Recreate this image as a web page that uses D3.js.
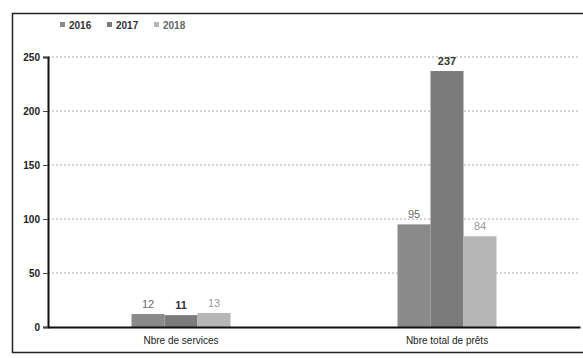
<!DOCTYPE html>
<html><head><meta charset="utf-8">
<script src="https://cdn.jsdelivr.net/npm/d3@7/dist/d3.min.js"></script>
<style>body{margin:0;background:#fff}svg{display:block}text{font-family:"Liberation Sans",Arial,sans-serif}</style>
</head><body><svg id="c" width="583" height="358"></svg>
<script>
const categories = ["Nbre de services", "Nbre total de prêts"];
const seriesNames = ["2016", "2017", "2018"];
const values2016 = [12, 95];
const values2017 = [11, 237];
const values2018 = [13, 84];
const yTicks = [0, 50, 100, 150, 200, 250];
const colors = ["#8a8a8a", "#7b7b7b", "#b6b6b6"];
const labelColors = ["#6a6a6a", "#333333", "#9a9a9a"];

const series = [values2016, values2017, values2018];
const svg = d3.select("#c");
const m = {l: 48, r: 5, t: 57, b: 31};

// outer frame
svg.append("rect").attr("x", 12.5).attr("y", 13.5).attr("width", 580).attr("height", 339)
  .attr("fill", "none").attr("stroke", "#222").attr("stroke-width", 1.5);

const x = d3.scaleBand().domain(categories).range([m.l, 580]);
const y = d3.scaleLinear().domain([0, 250]).range([327, 57]);
const bw = 33;
const xs = d3.scaleBand().domain(seriesNames).range([0, bw * 3]);

// gridlines
svg.append("g").selectAll("line").data(yTicks.filter(d => d > 0)).join("line")
  .attr("x1", m.l).attr("x2", 578).attr("y1", d => y(d)).attr("y2", d => y(d))
  .attr("stroke", "#aaa").attr("stroke-width", 1).attr("stroke-dasharray", "2,2");

// bars
seriesNames.forEach((s, i) => {
  const g = svg.append("g");
  g.selectAll("rect").data(categories).join("rect")
    .attr("x", c => x(c) + x.bandwidth() / 2 - bw * 1.5 + xs(s))
    .attr("y", (c, j) => y(series[i][j]))
    .attr("width", bw)
    .attr("height", (c, j) => y(0) - y(series[i][j]))
    .attr("fill", colors[i]);
  g.selectAll("text").data(categories).join("text")
    .attr("x", c => x(c) + x.bandwidth() / 2 - bw * 1.5 + xs(s) + bw / 2)
    .attr("y", (c, j) => y(series[i][j]) - 6)
    .attr("text-anchor", "middle").attr("font-size", 11)
    .attr("fill", labelColors[i]).attr("font-weight", i === 1 ? "bold" : "normal")
    .text((c, j) => series[i][j]);
});

// y axis
const ya = d3.axisLeft(y).tickValues(yTicks).tickSize(5).tickPadding(3);
const yg = svg.append("g").attr("transform", `translate(${m.l},0)`).call(ya);
yg.select(".domain").attr("stroke", "#111").attr("stroke-width", 2);
yg.selectAll(".tick line").attr("stroke", "#444");
yg.selectAll(".tick text").attr("font-size", 10).attr("fill", "#222").attr("font-weight", "bold")
  .style("font-family", "'Liberation Sans',Arial,sans-serif");

// x axis
const xa = d3.axisBottom(x).tickSize(0).tickPadding(10);
const xg = svg.append("g").attr("transform", `translate(0,${y(0)})`).call(xa);
xg.select(".domain").attr("stroke", "#111").attr("stroke-width", 2);
xg.selectAll(".tick text").attr("font-size", 10).attr("fill", "#222")
  .style("font-family", "'Liberation Sans Narrow','Liberation Sans',Arial,sans-serif");

// legend
const lg = svg.append("g").attr("transform", "translate(60,25)");
seriesNames.forEach((s, i) => {
  const gx = i * 47;
  lg.append("rect").attr("x", gx).attr("y", -3).attr("width", 5).attr("height", 5).attr("fill", colors[i]);
  lg.append("text").attr("x", gx + 9).attr("y", 3.5).attr("font-size", 10)
    .attr("fill", i === 2 ? "#666" : "#333").attr("font-weight", "bold").text(s);
});
</script></body></html>
